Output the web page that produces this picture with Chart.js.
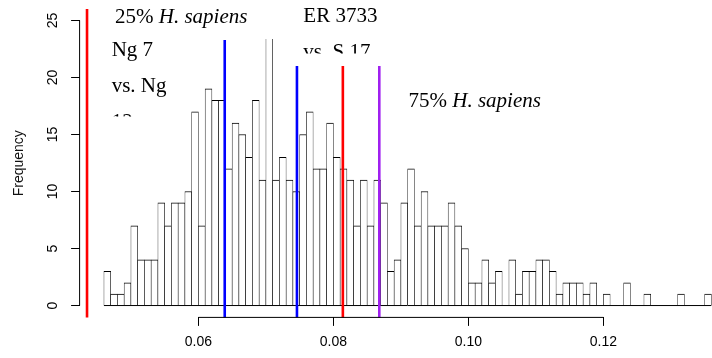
<!DOCTYPE html>
<html>
<head>
<meta charset="utf-8">
<script src="https://cdn.jsdelivr.net/npm/chart.js@4.4.1/dist/chart.umd.min.js"></script>
<style>
  html, body { margin: 0; padding: 0; background: #fff; overflow: hidden; }
  #wrap { position: relative; width: 712px; height: 358px; overflow: hidden; background: #fff; }
  canvas { display: block; }
</style>
</head>
<body>
<div id="wrap"><canvas id="hist" width="740" height="358"></canvas></div>
<script>
// Histogram bins: 0.001 wide, first break at 0.046
const binStart = 0.046;
const binWidth = 0.001;
const counts = [
  3, 1, 1, 2, 7, 4, 4, 4, 9, 7,
  9, 9, 10, 17, 7, 19, 18, 18, 12, 16,
  15, 13, 18, 11, 27, 11, 13, 11, 10, 15,
  17, 12, 12, 16, 13, 12, 11, 7, 11, 7,
  11, 9, 3, 4, 9, 12, 7, 10, 7, 7,
  7, 9, 7, 5, 2, 2, 4, 2, 3, 0,
  4, 1, 3, 3, 4, 4, 3, 1, 2, 2,
  2, 1, 2, 0, 1, 0, 0, 2, 0, 0,
  1, 0, 0, 0, 0, 1, 0, 0, 0, 1
];

// Axis ticks
const xTicks = [0.06, 0.08, 0.10, 0.12];
const yTicks = [0, 5, 10, 15, 20, 25];
const yTitle = 'Frequency';

// Reference values marked with vertical lines
const markerX = [0.0435, 0.0639, 0.0746, 0.0814, 0.0868];
const markerTop = [27, 23.3, 21, 21, 21];
const markerColor = ['#FF0000', '#0000FF', '#0000FF', '#FF0000', '#A020F0'];

// Annotations
const q25Label = ['25% ', 'H. sapiens'];
const q75Label = ['75% ', 'H. sapiens'];
const pairA = ['Ng 7', 'vs. Ng', '12'];
const pairB = ['ER 3733', 'vs. S 17'];

const binMids = counts.map((_, i) => binStart + binWidth * (i + 0.5));
const binEnd = binStart + binWidth * counts.length;

const markerSets = markerX.map((v, i) => ({
  type: 'line',
  data: [{ x: v, y: -5 }, { x: v, y: markerTop[i] }],
  borderColor: markerColor[i],
  borderWidth: 2.6,
  pointRadius: 0,
  borderCapStyle: 'butt',
  clip: 0,
  order: 0
}));

const sansFont = '"Liberation Sans", Arial, sans-serif';
const serifFont = '"Liberation Serif", "Times New Roman", serif';

const axisLines = {
  id: 'axisLines',
  afterDatasetsDraw(chart) {
    const { ctx, chartArea, scales: { x, y } } = chart;
    ctx.save();
    ctx.strokeStyle = '#000';
    ctx.lineWidth = 1;
    ctx.beginPath();
    ctx.moveTo(chartArea.left, y.getPixelForValue(yTicks[0]));
    ctx.lineTo(chartArea.left, y.getPixelForValue(yTicks[yTicks.length - 1]));
    ctx.moveTo(x.getPixelForValue(xTicks[0]), chartArea.bottom);
    ctx.lineTo(x.getPixelForValue(xTicks[xTicks.length - 1]), chartArea.bottom);
    ctx.stroke();
    ctx.restore();
  }
};

function mixedText(ctx, parts, x, y) {
  ctx.font = '21px ' + serifFont;
  ctx.fillText(parts[0], x, y);
  const w = ctx.measureText(parts[0]).width;
  ctx.font = 'italic 21px ' + serifFont;
  ctx.fillText(parts[1], x + w, y);
}

function clippedText(ctx, text, x, y, clipBottom) {
  ctx.save();
  ctx.beginPath();
  ctx.rect(0, 0, ctx.canvas.width, clipBottom);
  ctx.clip();
  ctx.fillText(text, x, y);
  ctx.restore();
}

const notes = {
  id: 'notes',
  afterDraw(chart) {
    const ctx = chart.ctx;
    ctx.save();
    ctx.fillStyle = '#000';
    ctx.textBaseline = 'alphabetic';
    ctx.textAlign = 'left';
    mixedText(ctx, q25Label, 115, 23);
    mixedText(ctx, q75Label, 408.5, 106.7);
    ctx.font = '21px ' + serifFont;
    ctx.fillText(pairB[0], 303.3, 22);
    clippedText(ctx, pairB[1], 303.3, 58, 53.5);
    ctx.fillText(pairA[0], 111.7, 55.5);
    ctx.fillText(pairA[1], 111.7, 91.7);
    clippedText(ctx, pairA[2], 111.7, 127.7, 116.5);
    ctx.restore();
  }
};

new Chart(document.getElementById('hist'), {
  type: 'bar',
  data: {
    datasets: [
      ...markerSets,
      {
        type: 'line',
        data: [{ x: binStart, y: 0 }, { x: binEnd, y: 0 }],
        borderColor: '#000',
        borderWidth: 1,
        pointRadius: 0,
        order: 1
      },
      {
        type: 'bar',
        data: binMids.map((m, i) => ({ x: m, y: counts[i] })),
        backgroundColor: '#fff',
        borderColor: '#000',
        borderWidth: { top: 1, left: 0.6, right: 0.6, bottom: 0 },
        barPercentage: 1,
        categoryPercentage: 1,
        clip: { left: 0, top: -30, right: 0, bottom: 0 },
        order: 2
      }
    ]
  },
  options: {
    responsive: false,
    animation: false,
    events: [],
    layout: { padding: { left: 0, top: 9.1, right: 4.3, bottom: 0 } },
    plugins: { legend: { display: false }, tooltip: { enabled: false } },
    scales: {
      x: {
        type: 'linear',
        min: 0.0424,
        max: 0.1396,
        offset: false,
        afterBuildTicks: s => { s.ticks = xTicks.map(v => ({ value: v })); },
        afterFit: s => { s.height = 40.6; s.paddingLeft = 0; s.paddingRight = 0; },
        grid: { display: true, drawOnChartArea: false, drawTicks: true, tickLength: 8.5, color: '#000', lineWidth: 1, offset: false },
        border: { display: false },
        ticks: {
          autoSkip: false, maxRotation: 0, minRotation: 0, padding: 8,
          color: '#000', font: { family: sansFont, size: 14 },
          callback: v => v.toFixed(2)
        }
      },
      y: {
        min: -1.04,
        max: 26,
        afterBuildTicks: s => { s.ticks = yTicks.map(v => ({ value: v })); },
        afterFit: s => { s.width = 79.6; s.paddingTop = 0; s.paddingBottom = 0; },
        grid: { display: true, drawOnChartArea: false, drawTicks: true, tickLength: 8.5, color: '#000', lineWidth: 1 },
        border: { display: false },
        ticks: {
          autoSkip: false, minRotation: 90, maxRotation: 90, crossAlign: 'center', padding: 10.5,
          color: '#000', font: { family: sansFont, size: 14 },
          callback: v => String(v)
        },
        title: {
          display: true, text: yTitle, color: '#111',
          font: { family: sansFont, size: 14 }, padding: { top: 11, bottom: 0 }
        }
      }
    }
  },
  plugins: [axisLines, notes]
});
</script>
</body>
</html>
